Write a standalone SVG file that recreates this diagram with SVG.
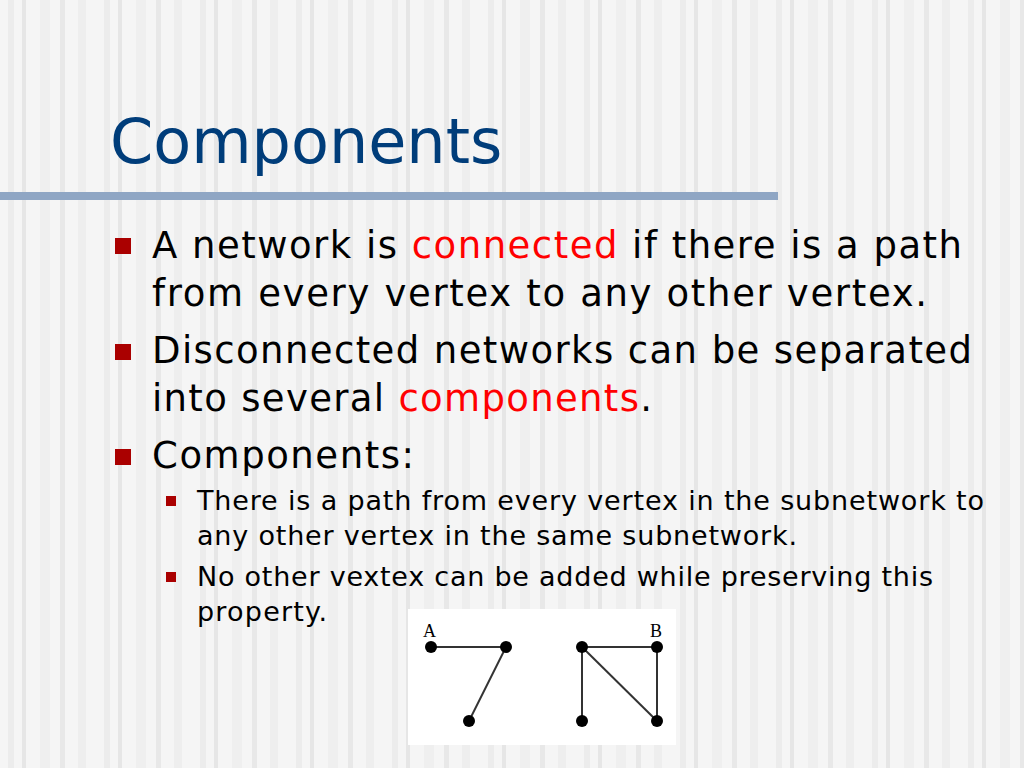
<svg xmlns="http://www.w3.org/2000/svg" width="1024" height="768" viewBox="0 0 1024 768">
<defs>
<pattern id="stripes" x="0" y="0" width="96" height="768" patternUnits="userSpaceOnUse">
<rect width="96" height="768" fill="#f5f5f5"/>
<rect x="8" width="6" height="768" fill="#ececec"/>
<rect x="22" width="4" height="768" fill="#e6e6e6"/>
<rect x="40" width="10" height="768" fill="#efefef"/>
<rect x="60" width="5" height="768" fill="#e8e8e8"/>
<rect x="78" width="8" height="768" fill="#eeeeee"/>
</pattern>
<style>
.t{font-family:"DejaVu Sans",Verdana,sans-serif;fill:#000}
.b{font-size:37px}
.s{font-size:27px}
.r{fill:#ff0000}
.e{stroke:#333;stroke-width:2}
.n{fill:#000}
</style>
</defs>
<rect width="1024" height="768" fill="url(#stripes)"/>
<text x="110" y="163" class="t" style="font-size:62px;fill:#003d7a">Components</text>
<rect x="0" y="192" width="778" height="8" fill="#8fa6c4"/>
<g fill="#aa0000">
<rect x="115" y="238" width="16" height="16"/>
<rect x="115" y="344" width="16" height="16"/>
<rect x="115" y="449" width="16" height="16"/>
<rect x="166" y="496" width="10" height="10"/>
<rect x="166" y="572" width="10" height="10"/>
</g>
<text class="t b" x="152" y="258" textLength="810">A network is <tspan class="r">connected</tspan> if there is a path</text>
<text class="t b" x="152" y="306" textLength="775">from every vertex to any other vertex.</text>
<text class="t b" x="152" y="363" textLength="820">Disconnected networks can be separated</text>
<text class="t b" x="152" y="411" textLength="500">into several <tspan class="r">components</tspan>.</text>
<text class="t b" x="152" y="468" textLength="262">Components:</text>
<text class="t s" x="197" y="510" textLength="787">There is a path from every vertex in the subnetwork to</text>
<text class="t s" x="197" y="545" textLength="600">any other vertex in the same subnetwork.</text>
<text class="t s" x="197" y="586" textLength="736">No other vextex can be added while preserving this</text>
<text class="t s" x="197" y="621" textLength="130">property.</text>
<rect x="408" y="609" width="268" height="136" fill="#fff"/>
<g id="connectors">
<line class="e" x1="431" y1="647" x2="506" y2="647"/>
<line class="e" x1="506" y1="647" x2="469" y2="721"/>
<line class="e" x1="582" y1="647" x2="657" y2="647"/>
<line class="e" x1="582" y1="647" x2="582" y2="721"/>
<line class="e" x1="582" y1="647" x2="657" y2="721"/>
<line class="e" x1="657" y1="647" x2="657" y2="721"/>
</g>
<g id="nA"><circle class="n" cx="431" cy="647" r="6"/><text x="423" y="637" style="font-family:'Liberation Serif',serif;font-size:18px">A</text></g>
<g id="n2"><circle class="n" cx="506" cy="647" r="6"/></g>
<g id="n3"><circle class="n" cx="469" cy="721" r="6"/></g>
<g id="n4"><circle class="n" cx="582" cy="647" r="6"/></g>
<g id="nB"><circle class="n" cx="657" cy="647" r="6"/><text x="650" y="637" style="font-family:'Liberation Serif',serif;font-size:18px">B</text></g>
<g id="n6"><circle class="n" cx="582" cy="721" r="6"/></g>
<g id="n7"><circle class="n" cx="657" cy="721" r="6"/></g>
</svg>
